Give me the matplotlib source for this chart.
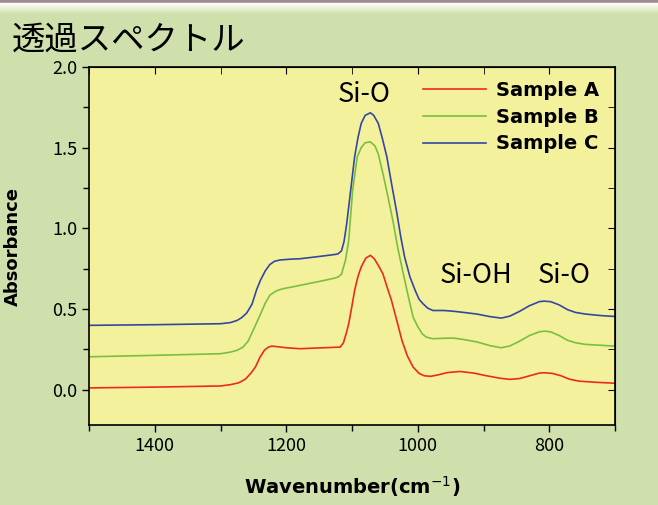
import matplotlib.pyplot as plt
from matplotlib.patches import Rectangle
import numpy as np

# datos
wn_a = [1500, 1400, 1300, 1285, 1272, 1262, 1254, 1247, 1240, 1233, 1227, 1222, 1212, 1200,
        1179, 1150, 1118, 1113, 1108, 1105, 1100, 1096, 1091, 1086, 1079, 1072, 1066, 1060,
        1053, 1047, 1040, 1032, 1024, 1016, 1007, 998, 990, 980, 970, 955, 936, 915, 895, 875,
        860, 845, 830, 815, 807, 795, 782, 770, 755, 730, 700]
abs_a = [0.010, 0.015, 0.022, 0.030, 0.042, 0.065, 0.100, 0.139, 0.200, 0.245, 0.263, 0.269,
         0.265, 0.259, 0.253, 0.258, 0.263, 0.290, 0.360, 0.408, 0.520, 0.615, 0.700, 0.760,
         0.815, 0.832, 0.810, 0.770, 0.718, 0.640, 0.553, 0.430, 0.304, 0.210, 0.139, 0.100,
         0.085, 0.082, 0.090, 0.105, 0.112, 0.102, 0.085, 0.070, 0.063, 0.068, 0.085, 0.102,
         0.104, 0.100, 0.085, 0.065, 0.052, 0.045, 0.039]

wn_b = [1500, 1400, 1300, 1285, 1275, 1266, 1258, 1250, 1240, 1232, 1225, 1215, 1205, 1190,
        1179, 1150, 1125, 1121, 1116, 1110, 1105, 1099, 1092, 1086, 1080, 1072, 1065, 1060,
        1053, 1045, 1037, 1030, 1022, 1014, 1007, 1000, 993, 987, 977, 960, 946, 930, 910,
        890, 873, 860, 845, 830, 815, 807, 798, 785, 772, 760, 745, 720, 700]
abs_b = [0.203, 0.212, 0.222, 0.232, 0.243, 0.262, 0.300, 0.370, 0.460, 0.535, 0.585, 0.612,
         0.625, 0.637, 0.646, 0.670, 0.692, 0.698, 0.715, 0.800, 0.925, 1.236, 1.443, 1.500,
         1.530, 1.536, 1.510, 1.460, 1.340, 1.190, 1.030, 0.870, 0.718, 0.570, 0.449, 0.390,
         0.345, 0.325, 0.315, 0.318, 0.319, 0.310, 0.295, 0.272, 0.259, 0.270, 0.300, 0.335,
         0.358, 0.362, 0.358, 0.335, 0.305, 0.290, 0.280, 0.274, 0.269]

wn_c = [1500, 1400, 1300, 1285, 1275, 1268, 1260, 1252, 1245, 1239, 1232, 1225, 1218, 1210,
        1195, 1179, 1150, 1125, 1121, 1116, 1112, 1108, 1102, 1096, 1091, 1086, 1080, 1072,
        1067, 1060, 1054, 1047, 1040, 1032, 1026, 1020, 1012, 1004, 998, 992, 985, 977, 960,
        945, 930, 910, 890, 873, 860, 845, 830, 815, 808, 798, 785, 772, 760, 745, 720, 700]
abs_c = [0.398, 0.402, 0.408, 0.415, 0.428, 0.445, 0.475, 0.530, 0.620, 0.680, 0.735, 0.775,
         0.795, 0.803, 0.808, 0.811, 0.825, 0.838, 0.842, 0.860, 0.920, 1.030, 1.236, 1.443,
         1.560, 1.650, 1.700, 1.716, 1.700, 1.650, 1.560, 1.443, 1.280, 1.100, 0.950, 0.822,
         0.700, 0.615, 0.560, 0.532, 0.505, 0.490, 0.490, 0.485, 0.478, 0.468, 0.452, 0.443,
         0.455, 0.485, 0.520, 0.545, 0.548, 0.545, 0.525, 0.495, 0.478, 0.468, 0.458, 0.453]

nombres = ['Sample A', 'Sample B', 'Sample C']
colores = ['#ec2a22', '#78c043', '#3447a3']

# etiquetas de bandas: (texto, numero de onda, absorbancia)
bandas = [('Si-O', 1082, 1.83), ('Si-OH', 911, 0.705), ('Si-O', 778, 0.705)]

mayores_x = [1400, 1200, 1000, 800]
mayores_y = [0.0, 0.5, 1.0, 1.5, 2.0]

fondo = '#cfe0ad'
fondo_ax = '#f4f19c'
jp = ['Noto Sans CJK JP', 'DejaVu Sans']

fig = plt.figure(figsize=(6.58, 5.05), dpi=100, facecolor=fondo)

# franja superior
fig.patches.append(Rectangle((0, 1 - 3/505), 1, 3/505, transform=fig.transFigure,
                             color='#9e8c92', zorder=0))
for k in range(12):
    t = k / 11
    c = np.array([1.0, 1.0, 0.97]) * (1 - t) + np.array([0xcf, 0xe0, 0xad]) / 255 * t
    fig.patches.append(Rectangle((0, 1 - (4 + k) / 505), 1, 1/505, transform=fig.transFigure,
                                 color=c, zorder=0))

ax = fig.add_axes([89/658, 1 - 425/505, 526/658, 358/505])
ax.set_facecolor(fondo_ax)

for wn, ab, nom, col in zip([wn_a, wn_b, wn_c], [abs_a, abs_b, abs_c], nombres, colores):
    ax.plot(wn, ab, color=col, lw=1.2, label=nom)

for txt, x, y in bandas:
    ax.text(x, y, txt, ha='center', va='center', fontsize=19.5, family=jp)

ax.set_xlim(1500, 700)
ax.set_ylim(-0.22, 2.0)
ax.set_xticks(mayores_x)
ax.set_xticks(np.arange(1500, 699, -100), minor=True)
ax.set_yticks(mayores_y)
ax.set_yticks(np.arange(0.25, 2.0, 0.5), minor=True)
ax.tick_params(axis='both', which='both', direction='out', length=5, width=1,
               labelsize=13, color='black')
ax.tick_params(axis='both', which='minor', length=4)
for lbl in ax.get_xticklabels() + ax.get_yticklabels():
    lbl.set_family(jp)
ax.yaxis.set_major_formatter(plt.FormatStrFormatter('%.1f'))
for s in ax.spines.values():
    s.set_linewidth(1.2)

# ticks superiores y derechos hacia dentro
sec_x = ax.secondary_xaxis('top')
sec_x.set_xticks(mayores_x)
sec_x.set_xticks(np.arange(1500, 699, -100), minor=True)
sec_x.set_xticklabels([])
sec_x.tick_params(which='both', direction='in', length=5)
sec_y = ax.secondary_yaxis('right')
sec_y.set_yticks(mayores_y)
sec_y.set_yticks(np.arange(0.25, 2.0, 0.5), minor=True)
sec_y.set_yticklabels([])
sec_y.tick_params(which='both', direction='in', length=5)

ax.set_xlabel('Wavenumber(cm$^{-1}$)', fontsize=14, fontweight='bold', labelpad=14)
ax.set_ylabel('Absorbance', fontsize=13, fontweight='bold', labelpad=22)

ax.legend(loc='upper right', frameon=False, handlelength=3.25, handletextpad=0.5,
          labelspacing=0.4, prop={'weight': 'bold', 'size': 14},
          bbox_to_anchor=(1.003, 1.01))

fig.text(12/658, 1 - 40/505, '透過スペクトル', fontsize=24, family=jp, va='center', ha='left')

fig.savefig('out.png', dpi=100, facecolor=fondo)
